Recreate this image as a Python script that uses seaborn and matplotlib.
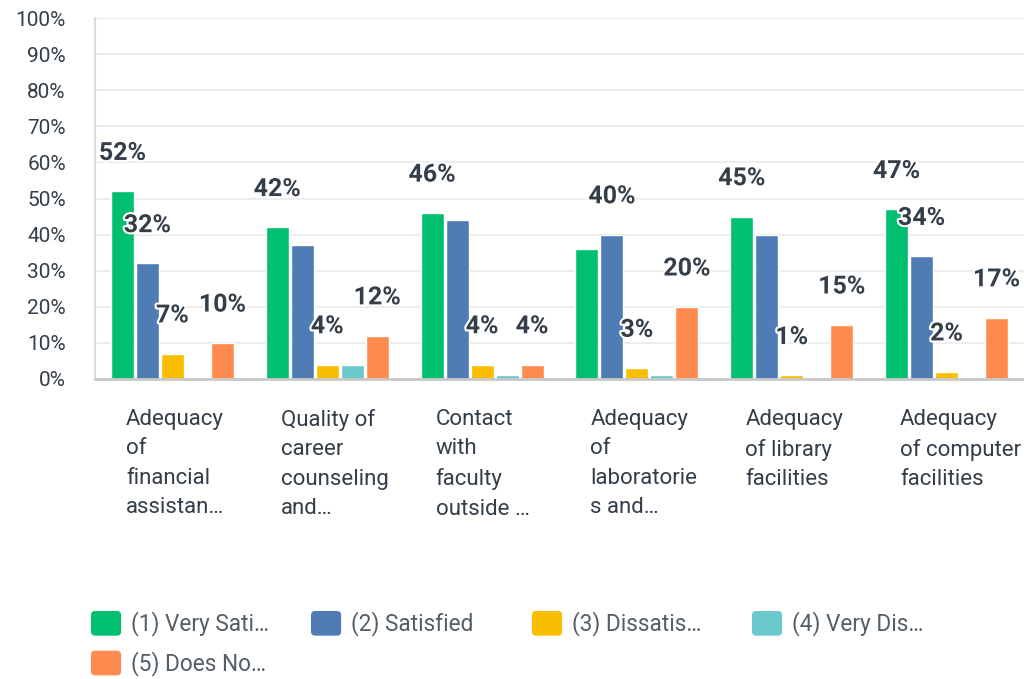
import matplotlib

matplotlib.use("Agg")
import matplotlib.pyplot as plt
import matplotlib.patheffects as pe
from matplotlib.legend_handler import HandlerPatch
from matplotlib.patches import FancyBboxPatch, Patch
from matplotlib.transforms import ScaledTranslation
import pandas as pd
import seaborn as sns

categories = [
    "Adequacy\nof\nfinancial\nassistan…",
    "Quality of\ncareer\ncounseling\nand…",
    "Contact\nwith\nfaculty\noutside …",
    "Adequacy\nof\nlaboratorie\ns and…",
    "Adequacy\nof library\nfacilities",
    "Adequacy\nof computer\nfacilities",
]
series = [
    "(1) Very Sati…",
    "(2) Satisfied",
    "(3) Dissatis…",
    "(4) Very Dis…",
    "(5) Does No…",
]
very_satisfied = [52, 42, 46, 36, 45, 47]
satisfied = [32, 37, 44, 40, 40, 34]
dissatisfied = [7, 4, 4, 3, 1, 2]
very_dissatisfied = [0, 4, 1, 1, 0, 0]
does_not_apply = [10, 12, 4, 20, 15, 17]
values = [very_satisfied, satisfied, dissatisfied, very_dissatisfied, does_not_apply]

# which value labels the original chart shows (the rest were hidden by overlap)
show_label = [
    [True, True, True, False, True, True],
    [True, False, False, True, False, True],
    [True, True, True, True, True, True],
    [False, False, False, False, False, False],
    [True, True, True, True, True, True],
]
colors = ["#00bf6f", "#507cb6", "#f9be00", "#6bc8cd", "#ff8b4f"]

df = pd.DataFrame(
    [(c, s, v) for s, vals in zip(series, values) for c, v in zip(categories, vals)],
    columns=["category", "series", "value"],
)

sns.set_style("white")
plt.rcParams["font.family"] = ["Roboto", "DejaVu Sans"]
text_col = "#333e48"

fig = plt.figure(figsize=(10.24, 6.79), dpi=100)
ax = fig.add_axes([95 / 1024, 1 - 379 / 679, 1 - 95 / 1024, (379 - 18) / 679])

sns.barplot(
    data=df, x="category", y="value", hue="series", palette=colors,
    width=0.807, saturation=1, legend=False, ax=ax,
)

# small white gap between bars
for container in ax.containers:
    for bar in container:
        w = bar.get_width()
        bar.set_x(bar.get_x() + w * 0.04)
        bar.set_width(w * 0.92)

for container, vals, shows in zip(ax.containers, values, show_label):
    for bar, v, show in zip(container, vals, shows):
        if not show:
            continue
        ax.annotate(
            f"{v}%", (bar.get_x() + bar.get_width() / 2, v),
            xytext=(0, 27.6), textcoords="offset points",
            ha="center", va="center", fontsize=18, fontweight="bold",
            color=text_col, zorder=5,
            path_effects=[pe.withStroke(linewidth=3, foreground="white")],
        )

ax.set_ylim(0, 100)
ax.set_xlim(-0.5, len(categories) - 0.5)
ax.set_yticks(range(0, 101, 10))
ax.set_yticklabels([f"{t}%" for t in range(0, 101, 10)])
ax.set_xlabel("")
ax.set_ylabel("")
ax.yaxis.grid(True, color="#ededed", linewidth=1.5)
ax.set_axisbelow(True)
ax.tick_params(axis="y", length=0, pad=21, labelsize=15, labelcolor=text_col)
ax.tick_params(axis="x", length=0, pad=21.5, labelsize=16, labelcolor=text_col)
for lab in ax.get_xticklabels():
    lab.set_ha("left")
    lab.set_va("top")
    lab.set_linespacing(1.53)
    lab.set_transform(lab.get_transform() + ScaledTranslation(-0.465, 0, fig.dpi_scale_trans))

for side in ["top", "right"]:
    ax.spines[side].set_visible(False)
ax.spines["left"].set_color("#dcdcdc")
ax.spines["left"].set_linewidth(1.5)
ax.spines["bottom"].set_color("#c8c8c8")
ax.spines["bottom"].set_linewidth(2)


class RoundHandler(HandlerPatch):
    def __init__(self):
        super().__init__(patch_func=self.make)

    @staticmethod
    def make(legend, orig_handle, xdescent, ydescent, width, height, fontsize):
        return FancyBboxPatch(
            (-xdescent, -ydescent), width, height,
            boxstyle="round,pad=0,rounding_size=3",
        )


handles = [Patch(facecolor=c, edgecolor="none") for c in colors]
columns = [[0, 4], [1], [2], [3]]
col_x = [91, 311, 532, 752]
for idx, x in zip(columns, col_x):
    leg = fig.legend(
        [handles[i] for i in idx], [series[i] for i in idx],
        loc="upper left", bbox_to_anchor=(x / 1024, 1 - 611 / 679),
        frameon=False, borderpad=0, borderaxespad=0,
        fontsize=16.3, handlelength=1.33, handleheight=1.3,
        handletextpad=0.42, labelspacing=0.63, labelcolor="#545e66",
        handler_map={Patch: RoundHandler()},
    )

fig.savefig("out.png", dpi=100)
